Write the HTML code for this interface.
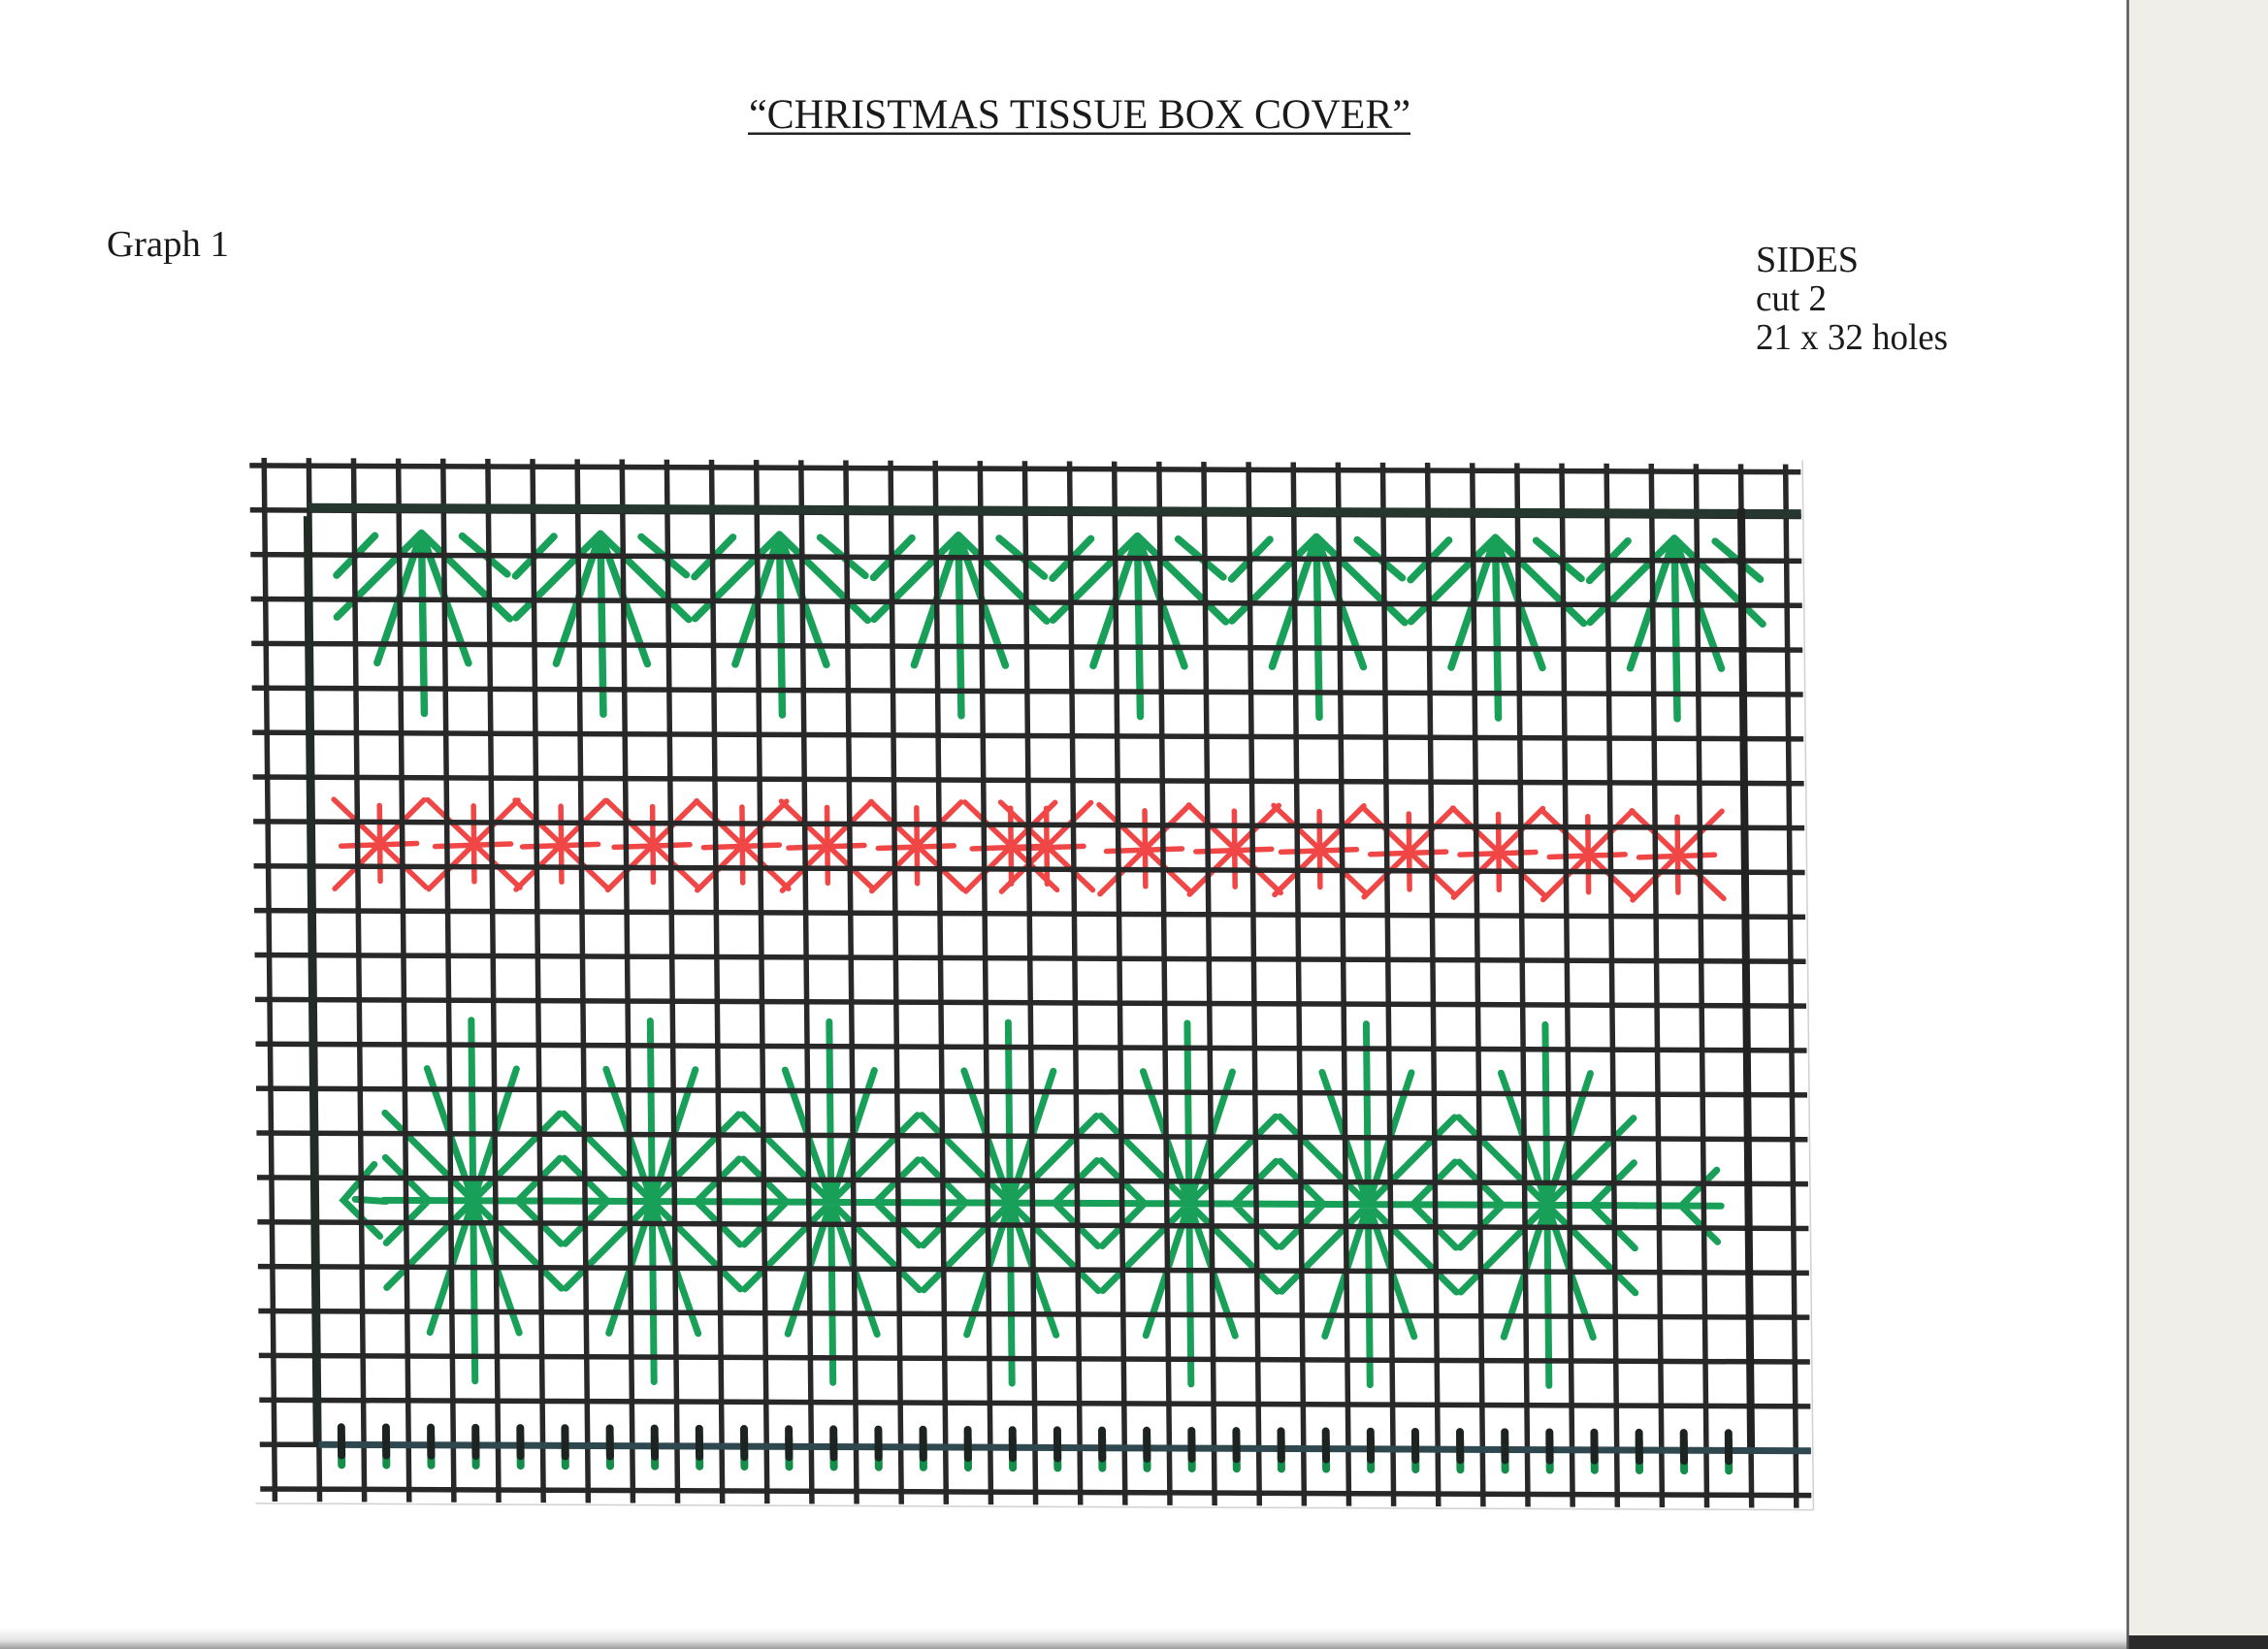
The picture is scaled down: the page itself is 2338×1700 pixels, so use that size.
<!DOCTYPE html>
<html>
<head>
<meta charset="utf-8">
<style>
html,body{margin:0;padding:0;background:#fff;}
svg{display:block;}
</style>
</head>
<body>
<svg width="2338" height="1700" viewBox="0 0 2338 1700" xmlns="http://www.w3.org/2000/svg">
<defs>
<linearGradient id="botl" x1="0" y1="0" x2="0" y2="1">
<stop offset="0" stop-color="#ffffff"/>
<stop offset="0.6" stop-color="#e2e2e2"/>
<stop offset="1" stop-color="#9c9c9c"/>
</linearGradient>
<g id="tree" fill="none" stroke="#19a058" stroke-width="7.5" stroke-linecap="round">
<path d="M0 0L1 186M0 0L-47 134M0 0L47 134M0 0L-88 87M0 0L90 88M-48 3L-88 44M42 3L88 42"/>
</g>
<g id="flake" fill="none" stroke="#f04646" stroke-width="5.5" stroke-linecap="round">
<path d="M0 -40L0 38M-40 2L38 -1M-47 -46L47 44M46 -46L-47 46"/>
</g>
<g id="star" fill="none" stroke="#19a058" stroke-width="7" stroke-linecap="round">
<path d="M0 -186L0 186M0 0L-46 -136M0 0L46 -136M0 0L-46 136M0 0L46 136M0 0L-90 -90M0 0L90 -90M0 0L-90 90M0 0L90 90M-92 0L92 0M-90 -44L-46 0L-90 44M90 -44L46 0L90 44"/>
</g>
</defs>

<rect x="0" y="0" width="2338" height="1700" fill="#ffffff"/>
<rect x="2193" y="0" width="145" height="1700" fill="#efeee9"/>
<rect x="0" y="1678" width="2193" height="22" fill="url(#botl)"/>
<rect x="2193" y="1686" width="145" height="14" fill="#2b2b2b"/>
<line x1="2193.5" y1="0" x2="2193.5" y2="1700" stroke="#555" stroke-width="2.5"/>

<g font-family="'Liberation Serif', serif" fill="#1a1a1a">
<text x="772" y="132" font-size="43" textLength="682" lengthAdjust="spacingAndGlyphs">“CHRISTMAS TISSUE BOX COVER”</text>
<text x="110" y="264" font-size="38" textLength="126" lengthAdjust="spacingAndGlyphs">Graph 1</text>
<text x="1810" y="280" font-size="38" textLength="106" lengthAdjust="spacingAndGlyphs">SIDES</text>
<text x="1810" y="320" font-size="38" textLength="73" lengthAdjust="spacingAndGlyphs">cut 2</text>
<text x="1810" y="360" font-size="38" textLength="198" lengthAdjust="spacingAndGlyphs">21 x 32 holes</text>
</g>
<rect x="771" y="136.5" width="683" height="2.5" fill="#222"/>

<g transform="matrix(1 0.0042 0.0104 1 272.3 480)">
<path d="M1586 -12V1070M-20 1070H1586" fill="none" stroke="#d0d0d0" stroke-width="1.5"/>

<use href="#tree" transform="translate(161.46,68.8)"/>
<use href="#tree" transform="translate(345.98,68.8)"/>
<use href="#tree" transform="translate(530.5,68.8)"/>
<use href="#tree" transform="translate(715.02,68.8)"/>
<use href="#tree" transform="translate(899.54,68.8)"/>
<use href="#tree" transform="translate(1084.06,68.8)"/>
<use href="#tree" transform="translate(1268.58,68.8)"/>
<use href="#tree" transform="translate(1453.1,68.8)"/>

<use href="#flake" transform="translate(115.3,389.9)"/>
<use href="#flake" transform="translate(212.2,389.9)"/>
<use href="#flake" transform="translate(302.2,389.9)"/>
<use href="#flake" transform="translate(396.7,389.9)"/>
<use href="#flake" transform="translate(489.0,389.9)"/>
<use href="#flake" transform="translate(576.6,389.9)"/>
<use href="#flake" transform="translate(668.9,389.9)"/>
<use href="#flake" transform="translate(765.8,389.9)"/>
<use href="#flake" transform="translate(802.7,389.9)"/>
<use href="#flake" transform="translate(904.1,392)"/>
<use href="#flake" transform="translate(996.4,392)"/>
<use href="#flake" transform="translate(1084.1,392)"/>
<use href="#flake" transform="translate(1176.3,394)"/>
<use href="#flake" transform="translate(1268.6,394)"/>
<use href="#flake" transform="translate(1360.8,396)"/>
<use href="#flake" transform="translate(1453.1,396)"/>

<use href="#star" transform="translate(207.6,756.9)"/>
<use href="#star" transform="translate(392.1,756.9)"/>
<use href="#star" transform="translate(576.6,756.9)"/>
<use href="#star" transform="translate(761.1,756.9)"/>
<use href="#star" transform="translate(945.7,756.9)"/>
<use href="#star" transform="translate(1130.2,756.9)"/>
<use href="#star" transform="translate(1314.7,756.9)"/>
<g fill="none" stroke="#19a058" stroke-width="7" stroke-linecap="round">
<path d="M106 720L74 757L111 794M86 756L118 758"/>
<path d="M1490 720L1453 757L1490 794M1405 757L1494 757"/>
</g>

<path fill="none" stroke="#282828" stroke-width="5.5" d="M0 -8V1068M46.13 -8V1068M92.26 -8V1068M138.39 -8V1068M184.52 -8V1068M230.65 -8V1068M276.78 -8V1068M322.91 -8V1068M369.04 -8V1068M415.17 -8V1068M461.3 -8V1068M507.43 -8V1068M553.56 -8V1068M599.69 -8V1068M645.82 -8V1068M691.95 -8V1068M738.08 -8V1068M784.21 -8V1068M830.34 -8V1068M876.47 -8V1068M922.6 -8V1068M968.73 -8V1068M1014.86 -8V1068M1060.99 -8V1068M1107.12 -8V1068M1153.25 -8V1068M1199.38 -8V1068M1245.51 -8V1068M1291.64 -8V1068M1337.77 -8V1068M1383.9 -8V1068M1430.03 -8V1068M1476.16 -8V1068M1522.29 -8V1068M1568.42 -8V1068"/>
<path fill="none" stroke="#282828" stroke-width="5.5" d="M-15 0H1584M-15 45.87H1584M-15 91.74H1584M-15 137.61H1584M-15 183.48H1584M-15 229.35H1584M-15 275.22H1584M-15 321.09H1584M-15 366.96H1584M-15 412.83H1584M-15 458.7H1584M-15 504.57H1584M-15 550.44H1584M-15 596.31H1584M-15 642.18H1584M-15 688.05H1584M-15 733.92H1584M-15 779.79H1584M-15 825.66H1584M-15 871.53H1584M-15 917.4H1584M-15 963.27H1584M-15 1009.14H1584M-15 1055.01H1584"/>

<path d="M46 43H1584" fill="none" stroke="#26372f" stroke-width="9"/>
<path d="M44 52V1010" fill="none" stroke="#222c27" stroke-width="8"/>
<path d="M1522.3 38V1010" fill="none" stroke="#222" stroke-width="8"/>
<path d="M46 1009.1H1584" fill="none" stroke="#2f4850" stroke-width="7"/>

<path fill="none" stroke="#148c4a" stroke-width="8" stroke-linecap="round" d="M69.2 1000V1030M115.3 1000V1030M161.5 1000V1030M207.6 1000V1030M253.7 1000V1030M299.8 1000V1030M346 1000V1030M392.1 1000V1030M438.2 1000V1030M484.4 1000V1030M530.5 1000V1030M576.6 1000V1030M622.8 1000V1030M668.9 1000V1030M715 1000V1030M761.1 1000V1030M807.3 1000V1030M853.4 1000V1030M899.5 1000V1030M945.7 1000V1030M991.8 1000V1030M1037.9 1000V1030M1084.1 1000V1030M1130.2 1000V1030M1176.3 1000V1030M1222.4 1000V1030M1268.6 1000V1030M1314.7 1000V1030M1360.8 1000V1030M1407 1000V1030M1453.1 1000V1030M1499.2 1000V1030"/>
<path fill="none" stroke="#1d2320" stroke-width="8" stroke-linecap="round" d="M69.2 991V1020M115.3 991V1020M161.5 991V1020M207.6 991V1020M253.7 991V1020M299.8 991V1020M346 991V1020M392.1 991V1020M438.2 991V1020M484.4 991V1020M530.5 991V1020M576.6 991V1020M622.8 991V1020M668.9 991V1020M715 991V1020M761.1 991V1020M807.3 991V1020M853.4 991V1020M899.5 991V1020M945.7 991V1020M991.8 991V1020M1037.9 991V1020M1084.1 991V1020M1130.2 991V1020M1176.3 991V1020M1222.4 991V1020M1268.6 991V1020M1314.7 991V1020M1360.8 991V1020M1407 991V1020M1453.1 991V1020M1499.2 991V1020"/>
</g>
</svg>
</body>
</html>
